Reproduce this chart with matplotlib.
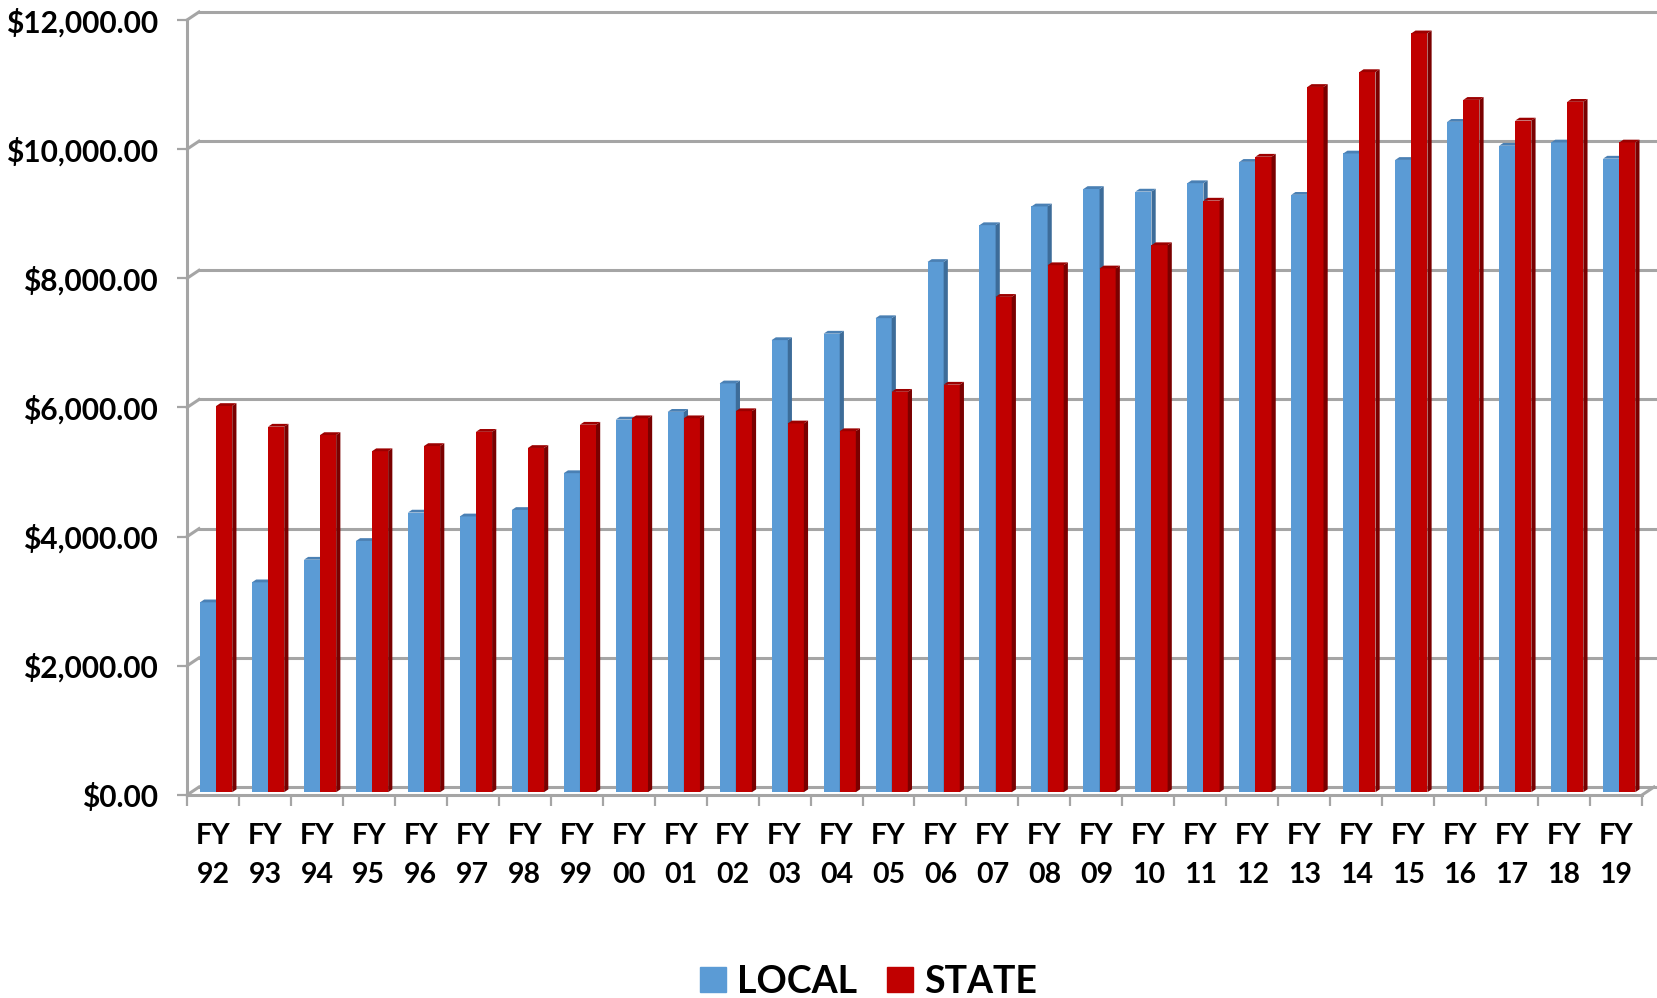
import matplotlib
matplotlib.use("Agg")
import matplotlib.pyplot as plt
from matplotlib.patches import Polygon, Patch

plt.rcParams['font.family'] = ['Lato', 'DejaVu Sans']

years = ['92', '93', '94', '95', '96', '97', '98', '99', '00', '01', '02', '03', '04', '05',
         '06', '07', '08', '09', '10', '11', '12', '13', '14', '15', '16', '17', '18', '19']
local = [2940, 3250, 3600, 3890, 4330, 4270, 4370, 4940, 5770, 5890, 6330, 7000, 7100, 7340,
         8210, 8780, 9070, 9340, 9300, 9430, 9760, 9250, 9890, 9790, 10380, 10010, 10060, 9810]
state = [5980, 5660, 5530, 5280, 5360, 5580, 5330, 5690, 5790, 5790, 5900, 5710, 5590, 6200,
         6310, 7670, 8160, 8110, 8470, 9160, 9840, 10920, 11150, 11750, 10720, 10400, 10690, 10060]
yticks = [0, 2000, 4000, 6000, 8000, 10000, 12000]

n = len(years)
fig = plt.figure(figsize=(16.58, 9.98), dpi=100)
# axes = front plane of the fake 3d box
ax = fig.add_axes([187 / 1658, (998 - 795) / 998, 1455 / 1658, 775 / 998])
ax.set_xlim(-0.5, n - 0.5)
ax.set_ylim(0, 12000)
for s in ax.spines.values():
    s.set_visible(False)

px_x = 1455 / n          # pixels per category
px_y = 775 / 12000       # pixels per dollar
DX = 12 / px_x           # depth offset of the back wall
DY = 8 / px_y
grid_c = '#a5a5a5'

# back wall gridlines + left wall diagonals
for v in yticks:
    ax.plot([-0.5 + DX, n - 0.5 + DX + 0.2], [v + DY, v + DY], color=grid_c, lw=2.2, clip_on=False, zorder=1)
    ax.plot([-0.5, -0.5 + DX], [v, v + DY], color=grid_c, lw=2.2, clip_on=False, zorder=1)
ax.plot([-0.5, -0.5], [0, 12000], color=grid_c, lw=2.2, clip_on=False, zorder=1)
# floor
ax.plot([-0.5, n - 0.5], [0, 0], color=grid_c, lw=2.2, clip_on=False, zorder=1)
ax.plot([n - 0.5, n - 0.5 + DX], [0, DY], color=grid_c, lw=2.2, clip_on=False, zorder=1)

# bars
w = 0.31
f = 0.35     # depth position of bar fronts
bd = 0.35    # bar depth
ox, oy = f * DX, f * DY
ddx, ddy = bd * DX, bd * DY


def bar3d(x0, v, front, side, top):
    x1 = x0 + w
    ax.add_patch(Polygon([(x0, oy), (x1, oy), (x1, v + oy), (x0, v + oy)],
                         closed=True, fc=front, ec='none', zorder=3, clip_on=False))
    ax.add_patch(Polygon([(x1, oy), (x1 + ddx, oy + ddy), (x1 + ddx, v + oy + ddy), (x1, v + oy)],
                         closed=True, fc=side, ec='none', zorder=3, clip_on=False))
    ax.add_patch(Polygon([(x0, v + oy), (x0 + ddx, v + oy + ddy), (x1 + ddx, v + oy + ddy), (x1, v + oy)],
                         closed=True, fc=top, ec='none', zorder=3, clip_on=False))


for i in range(n):
    bar3d(i - w + ox - 0.02, local[i], '#5b9bd5', '#3d6c99', '#4a80b4')
    bar3d(i + ox - 0.02, state[i], '#c00000', '#7a0000', '#9c0000')

# ticks and labels
ax.set_yticks(yticks)
ax.set_yticklabels(['${:,.2f}'.format(v) for v in yticks], fontsize=21.5, fontweight='bold')
ax.set_xticks(range(n))
ax.set_xticklabels(['FY\n' + y for y in years], fontsize=20.5, fontweight='bold', linespacing=1.62)
ax.set_xticks([i - 0.5 for i in range(n + 1)], minor=True)
ax.tick_params(axis='x', which='major', length=0, pad=20)
ax.tick_params(axis='x', which='minor', length=8, width=1.6, color=grid_c)
ax.tick_params(axis='y', length=7, width=1.6, color=grid_c, pad=14)

handles = [Patch(color='#5b9bd5', label='LOCAL'), Patch(color='#c00000', label='STATE')]
fig.legend(handles=handles, loc='center', bbox_to_anchor=(0.524, 0.0165), ncol=2, frameon=False,
           prop={'size': 27, 'weight': 'bold'}, handlelength=0.68, handleheight=0.68,
           handletextpad=0.3, columnspacing=0.8, borderpad=0)

fig.savefig('out.png', dpi=100)
